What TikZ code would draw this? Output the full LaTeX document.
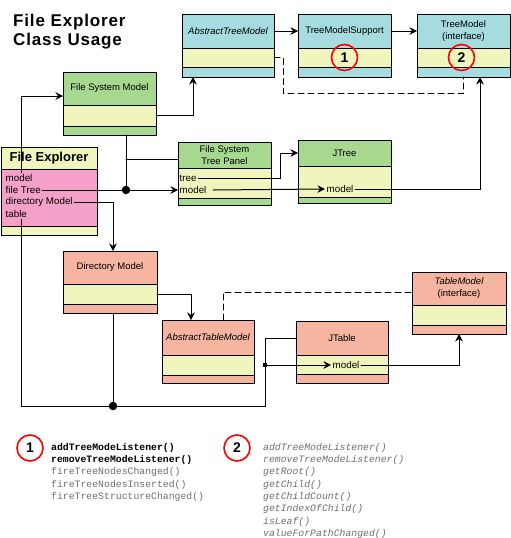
\documentclass[tikz,border=0pt]{standalone}
\usepackage{fontspec}
\setmainfont{Liberation Sans}
\setmonofont{Liberation Mono}
\usetikzlibrary{positioning,arrows.meta}
\definecolor{cblue}{HTML}{A6DCE0}
\definecolor{cyellow}{HTML}{F0F5BE}
\definecolor{cgreen}{HTML}{A6D890}
\definecolor{cpink}{HTML}{F5A0C8}
\definecolor{csalmon}{HTML}{F5B5A0}
\definecolor{cgray}{HTML}{6E6E6E}
\tikzset{
  cls/.style={draw, line width=1pt, inner sep=0pt, outer sep=0pt, anchor=north west,
    align=center, font=\fontsize{9.5}{12}\selectfont},
  part/.style={draw, line width=1pt, inner sep=0pt, outer sep=0pt, fill=cyellow, minimum width=#1},
  fld/.style={inner sep=1.5pt, anchor=west, font=\fontsize{9.8}{11}\selectfont},
  link/.style={line width=1pt},
  arr/.style={link, ->},
  dot/.style={circle, fill, inner sep=0pt, minimum size=8.5pt},
  sq/.style={rectangle, fill, inner sep=0pt, minimum size=4.5pt},
  num/.style={circle, draw=red, line width=1.6pt, minimum size=26pt, inner sep=0pt,
    font=\bfseries\fontsize{14}{14}\selectfont},
  api/.style={anchor=north west, inner sep=0pt, align=left, font=\ttfamily\fontsize{9.8}{12.3}\selectfont},
}
\begin{document}
\begin{tikzpicture}[x=1pt,y=-1pt,line cap=round,>={Stealth[length=7.5pt,width=7.5pt,inset=2.5pt]}]
\useasboundingbox (0,0) rectangle (511,538);
\node[anchor=north west, align=left, inner sep=0pt, font=\bfseries\fontsize{17}{19}\selectfont\addfontfeature{LetterSpace=5}] (title) at (13,14) {File Explorer\\Class Usage};

% tree models
\node[cls, fill=cblue, minimum width=92, minimum height=34] (atm) at (182,14) {\itshape AbstractTreeModel};
\node[part=92, minimum height=19, below=0pt of atm] (atm2) {};
\node[part=92, fill=cblue, minimum height=10, below=0pt of atm2] (atm3) {};
\node[cls, fill=cblue, minimum width=93, minimum height=34] (tms) at (298,14) {TreeModelSupport};
\node[part=93, minimum height=19, below=0pt of tms] (tms2) {};
\node[part=93, fill=cblue, minimum height=10, below=0pt of tms2] (tms3) {};
\node[cls, fill=cblue, minimum width=93, minimum height=34] (tm) at (417,14) {TreeModel\\(interface)};
\node[part=93, minimum height=19, below=0pt of tm] (tm2) {};
\node[part=93, fill=cblue, minimum height=10, below=0pt of tm2] (tm3) {};
\node[num] (n1) at (tms2) {1};
\node[num] (n2) at ([xshift=-2]tm2.center) {2};

% file system
\node[cls, fill=cgreen, minimum width=93, minimum height=33] (fsm) at (63,72) {File System Model};
\node[part=93, minimum height=21, below=0pt of fsm] (fsm2) {};
\node[part=93, fill=cgreen, minimum height=9, below=0pt of fsm2] (fsm3) {};
\node[cls, fill=cgreen, minimum width=93, minimum height=26] (fstp) at (178,142) {File System\\Tree Panel};
\node[part=93, minimum height=30, below=0pt of fstp] (fstp2) {};
\node[part=93, fill=cgreen, minimum height=7, below=0pt of fstp2] (fstp3) {};
\node[cls, fill=cgreen, minimum width=93, minimum height=26] (jtree) at (298,140) {JTree};
\node[part=93, minimum height=31, below=0pt of jtree] (jtree2) {};
\node[part=93, fill=cgreen, minimum height=6, below=0pt of jtree2] (jtree3) {};

% explorer
\node[cls, fill=cyellow, minimum width=96, minimum height=22, font=\bfseries\fontsize{13}{14}\selectfont] (fe) at (1,147) {File Explorer};
\node[part=96, fill=cpink, minimum height=57, below=0pt of fe] (fe2) {};
\node[part=96, minimum height=9, below=0pt of fe2] (fe3) {};
\node[fld] (femodel) at (4,178) {model};
\node[fld] (fetree) at (4,190) {file Tree};
\node[fld] (fedir) at (4,202) {directory Model};
\node[fld] (fetable) at (4,214) {table};
\node[fld] (fstree) at (178,178) {tree};
\node[fld] (fsmodel) at (178,190) {model};
\node[fld] (jtrmodel) at (325,189) {model};

% table models
\node[cls, fill=csalmon, minimum width=94, minimum height=33] (dm) at (63,251) {Directory Model};
\node[part=94, minimum height=20, below=0pt of dm] (dm2) {};
\node[part=94, fill=csalmon, minimum height=9, below=0pt of dm2] (dm3) {};
\node[cls, fill=csalmon, minimum width=92, minimum height=35] (atbm) at (162,320) {\itshape AbstractTableModel};
\node[part=92, minimum height=20, below=0pt of atbm] (atbm2) {};
\node[part=92, fill=csalmon, minimum height=8, below=0pt of atbm2] (atbm3) {};
\node[cls, fill=csalmon, minimum width=94, minimum height=33] (tabm) at (412,272) {\itshape TableModel\\(interface)};
\node[part=94, minimum height=20, below=0pt of tabm] (tabm2) {};
\node[part=94, fill=csalmon, minimum height=9, below=0pt of tabm2] (tabm3) {};
\node[cls, fill=csalmon, minimum width=92, minimum height=34] (jt) at (296,321) {JTable};
\node[part=92, minimum height=19, below=0pt of jt] (jt2) {};
\node[part=92, fill=csalmon, minimum height=9, below=0pt of jt2] (jt3) {};
\node[fld] (jtmodel) at (331,365) {model};

\coordinate (j1) at (126,190);
\coordinate (j2) at (113,406);
\coordinate (j3) at (265,365);
\coordinate (t0) at (21,406);

% links
\draw[arr] (atm) -- (tms);
\draw[arr] (tms) -- (tm);
\draw[link, dash pattern=on 6pt off 4pt] (atm2.east) -- ++(9,0) -- ++(0,36) -| (tm3.south);
\draw[arr] (fsm2.east) -| (atm3.south -| 193,0);
\draw[arr] (femodel.north -| t0) |- ([yshift=-7.5]fsm.west);
\draw[link] (fsm3.south -| j1) -- (j1);
\draw[link] (j1 |- 0,159) -- (fstp.west |- 0,159);
\draw[link] (fetree.east) -- (j1);
\node[dot] (d1) at (j1) {};
\draw[arr] (j1) -- (fsmodel.west);
\draw[arr] ([xshift=5]fsmodel.east) -- (jtrmodel.west);
\draw[arr] (jtrmodel.east) -| (tm3.south -| 480,0);
\draw[arr] (fstree.east) -- (fstree.east -| 280,0) |- (jtree.west);
\draw[arr] (fedir.east) -| ([xshift=3]dm.north);
\draw[link] (fetable.south -| t0) -- (t0) -- (t0 -| j3) |- (jt.west);
\draw[link] (dm3.south -| j2) -- (j2);
\node[dot] (d2) at (j2) {};
\node[sq] (s3) at (j3) {};
\draw[arr] (j3) -- (jtmodel.west);
\draw[arr] (jtmodel.east) -| (tabm3.south);
\draw[arr] (dm2.east) -| (atbm.north -| 191,0);
\draw[link, dash pattern=on 6pt off 4pt] (atbm.north -| 223,0) |- ([yshift=-3.5]tabm.west);

% legend
\node[num] (l1) at (30,448) {1};
\node[api] (api1) at (51,443) {\textbf{addTreeModeListener()}\\
  \textbf{removeTreeModeListener()}\\
  \textcolor{cgray}{fireTreeNodesChanged()}\\
  \textcolor{cgray}{fireTreeNodesInserted()}\\
  \textcolor{cgray}{fireTreeStructureChanged()}};
\node[num] (l2) at (237,448) {2};
\node[api, text=cgray, font=\ttfamily\itshape\fontsize{9.8}{12.3}\selectfont] (api2) at (263,443) {addTreeModeListener()\\
  removeTreeModeListener()\\
  getRoot()\\
  getChild()\\
  getChildCount()\\
  getIndexOfChild()\\
  isLeaf()\\
  valueForPathChanged()};
\end{tikzpicture}
\end{document}
